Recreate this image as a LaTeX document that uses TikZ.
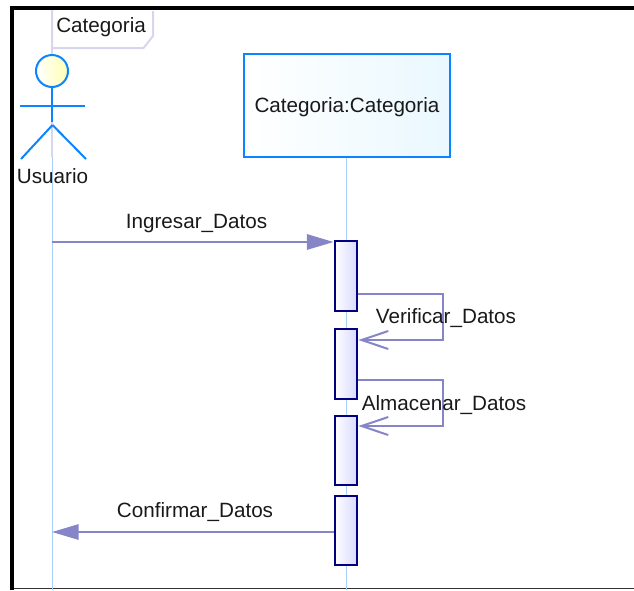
\documentclass[tikz,border=0pt]{standalone}
\usepackage{fontspec}
\setmainfont{Liberation Sans}
\usepackage{xcolor}
\usetikzlibrary{arrows.meta, positioning}
\definecolor{actorblue}{HTML}{0A84FF}
\definecolor{lifeblue}{HTML}{A8D0FA}
\definecolor{msgcolor}{HTML}{8585C8}
\definecolor{tabcolor}{HTML}{D6D6EE}
\definecolor{activeblue}{HTML}{000080}
\definecolor{activefill}{HTML}{D8D8FF}
\definecolor{objfill}{HTML}{EAF8FF}
\tikzset{
    txt/.style = {inner sep = 0pt, text = black!90, font = \fontsize{15.5}{17}\selectfont},
    lifeline/.style = {draw = lifeblue, line width = 0.75pt},
    activation/.style = {draw = activeblue, line width = 1.5pt, minimum width = 17.2pt, inner sep = 0pt,
        shading angle = 135, left color = white, right color = activefill},
    msg/.style = {draw = msgcolor, line width = 1.5pt},
    limb/.style = {draw = actorblue, line width = 1.5pt},
    filledtip/.style = {-{Triangle[length = 20pt, width = 11.5pt]}},
    opentip/.style = {-{Straight Barb[length = 20pt, width = 13.5pt, line width = 1.5pt]}}
}
\begin{document}
\begin{tikzpicture}[x = 0.75pt, y = -0.75pt]
    \useasboundingbox (0,0) rectangle (634,590);
    % frame
    \fill[black] (10,6) rectangle (634,10);
    \fill[black] (10,6) rectangle (14,590);
    \draw[black!80, line width = 0.9pt] (14,588.5) -- (634,588.5);
    % tab
    \draw[tabcolor, line width = 1.5pt] (52,10) -- (52,48) -- (143.5,48) -- (153,36) -- (153,11);
    \node[txt, anchor = base west] (title) at (56,32) {Categoria};
    % lifelines
    \coordinate (actorbottom) at (52,590);
    \coordinate (objbottom) at (346,590);
    \coordinate (actortop) at (52,157);
    \draw[tabcolor, line width = 1.1pt] (52,48) -- (actortop);
    \draw[lifeline] (actortop) -- (actorbottom);
    % object
    \node[draw = actorblue, line width = 1.5pt, shading angle = 135, left color = white, right color = objfill,
        minimum width = 154pt, minimum height = 77pt, inner sep = 0pt, txt, text depth = 0pt] (obj) at (347,105.5) {Categoria:Categoria};
    \draw[lifeline] (obj.south -| objbottom) -- (objbottom);
    % activations
    \node[activation, minimum height = 52.5pt] (act1) at (346,276) {};
    \node[activation, minimum height = 52.5pt] (act2) at (346,364) {};
    \node[activation, minimum height = 52pt] (act3) at (346,450.5) {};
    \node[activation, minimum height = 52pt] (act4) at (346,530.5) {};
    % actor
    \node[circle, draw = actorblue, line width = 1.5pt, minimum size = 24pt, inner sep = 0pt,
        shading angle = 135, left color = white, right color = yellow!30] (head) at (52,71) {};
    \coordinate (hip) at (52,122);
    \coordinate (armleft) at (20,106);
    \coordinate (armright) at (84.5,106);
    \coordinate (crotch) at (52.5,125);
    \coordinate (footleft) at (21,159);
    \coordinate (footright) at (86,159);
    \draw[limb] (head) -- (hip);
    \draw[limb] (armleft) -- (armright);
    \draw[limb] (crotch) -- (footleft);
    \draw[limb] (crotch) -- (footright);
    \node[txt, anchor = base] (usuario) at (52.5,183) {Usuario};
    % messages
    \coordinate (m1start) at (52,242);
    \draw[msg, filledtip] (m1start) -- (m1start -| act1.west);
    \node[txt, anchor = base] (m1) at (196.5,228) {Ingresar\_Datos};
    \coordinate (c1a) at (443,294);
    \coordinate (c1b) at (443,340);
    \draw[msg, opentip] (c1a -| act1.east) -- (c1a) -- (c1b) -- (c1b -| act2.east);
    \node[txt, anchor = base] (m2) at (446,323) {Verificar\_Datos};
    \coordinate (c2a) at (443,380);
    \coordinate (c2b) at (443,426);
    \draw[msg, opentip] (c2a -| act2.east) -- (c2a) -- (c2b) -- (c2b -| act3.east);
    \node[txt, anchor = base] (m3) at (444,410) {Almacenar\_Datos};
    \coordinate (m4end) at (52,532);
    \draw[msg, filledtip] (m4end -| act4.west) -- (m4end);
    \node[txt, anchor = base] (m4) at (195,517) {Confirmar\_Datos};
\end{tikzpicture}
\end{document}
